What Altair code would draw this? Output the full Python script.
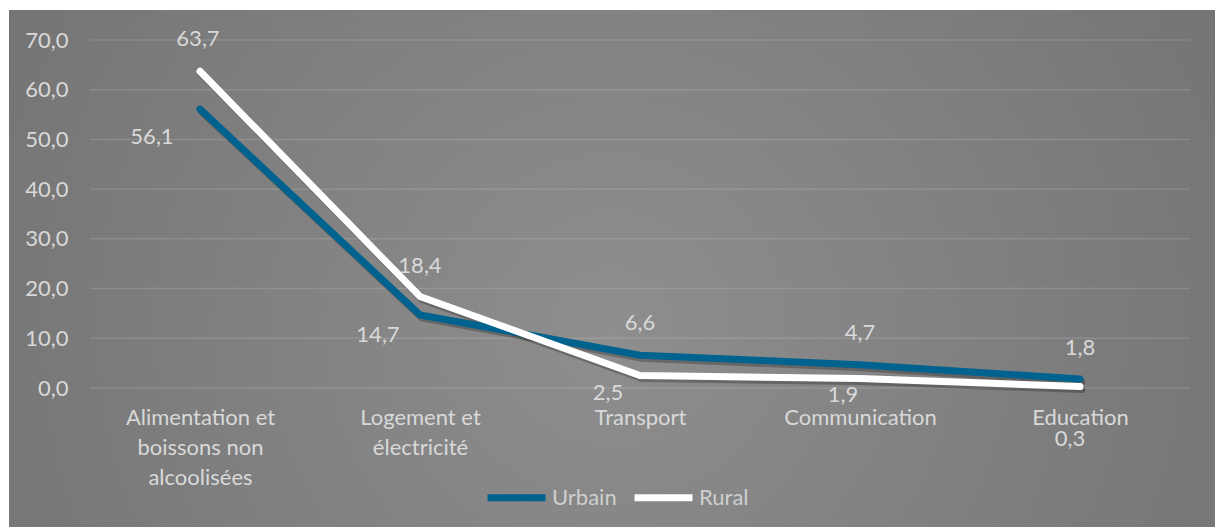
import altair as alt
import pandas as pd

# Budget shares (%) by spending item, urban vs rural households
categories = [
    "Alimentation et boissons non alcoolisées",
    "Logement et électricité",
    "Transport",
    "Communication",
    "Education",
]
urbain = [56.1, 14.7, 6.6, 4.7, 1.8]
rural = [63.7, 18.4, 2.5, 1.9, 0.3]
y_ticks = [0, 10, 20, 30, 40, 50, 60, 70]

# Wrapped axis labels
wrapped = {
    "Alimentation et boissons non alcoolisées": ["Alimentation et", "boissons non", "alcoolisées"],
    "Logement et électricité": ["Logement et", "électricité"],
}

# Pixel offsets of each value label from its point
urbain_label_dx = [-48, -42, 0, 0, 0]
urbain_label_dy = [28, 20, -32, -32, -31]
rural_label_dx = [-2, 0, -32, -17, -10]
rural_label_dy = [-32, -31, 17, 16, 52]

rows = []
for i, c in enumerate(categories):
    rows.append({"cat": c, "serie": "Urbain", "val": urbain[i], "dx": urbain_label_dx[i], "dy": urbain_label_dy[i]})
    rows.append({"cat": c, "serie": "Rural", "val": rural[i], "dx": rural_label_dx[i], "dy": rural_label_dy[i]})
df = pd.DataFrame(rows)

FONT = "Lato"
FS = 22
TXT = "#d9d9d9"

label_expr = "datum.value"
for k, lines in wrapped.items():
    arr = "[" + ",".join("'" + s + "'" for s in lines) + "]"
    label_expr = f"datum.value == '{k}' ? {arr} : ({label_expr})"

x_enc = alt.X(
    "cat:N",
    sort=categories,
    scale=alt.Scale(type="point", padding=0.5),
    axis=alt.Axis(
        title=None, domain=False, ticks=False, grid=False, zindex=1,
        labelAngle=0, labelFont=FONT, labelFontSize=FS, labelColor=TXT,
        labelPadding=19, labelLineHeight=30, labelExpr=label_expr,
        labelBaseline="top",
    ),
)
y_scale = alt.Scale(domain=[0, 70], nice=False)
y_enc = alt.Y(
    "val:Q",
    scale=y_scale,
    axis=alt.Axis(
        title=None, domain=False, ticks=False, grid=False, zindex=1,
        values=y_ticks,
        labelExpr="replace(format(datum.value, '.1f'), '.', ',')",
        labelFont=FONT, labelFontSize=FS, labelColor=TXT, labelPadding=22,
    ),
)

base = alt.Chart(df)

# Background panel with a soft radial grey gradient
panel = alt.Chart(pd.DataFrame({"k": [0]})).mark_rect(
    fill={
        "gradient": "radial",
        "x1": 0.5, "y1": 0.55, "r1": 0.0,
        "x2": 0.5, "y2": 0.55, "r2": 0.75,
        "stops": [
            {"offset": 0, "color": "#8e8e8e"},
            {"offset": 1, "color": "#6c6c6c"},
        ],
    }
).encode(
    x=alt.value(-81), x2=alt.value(1125), y=alt.value(-30), y2=alt.value(487)
)

# Horizontal gridlines (same y encoding, so the axis is shared)
grid = alt.Chart(pd.DataFrame({"val": y_ticks})).mark_rule(
    color="#ffffff", opacity=0.13, strokeWidth=1.5
).encode(
    y=y_enc,
    x=alt.value(0), x2=alt.value(1100),
)

series_color = alt.Color(
    "serie:N",
    sort=["Urbain", "Rural"],
    scale=alt.Scale(domain=["Urbain", "Rural"], range=["#00628f", "#ffffff"]),
    legend=alt.Legend(
        title=None, orient="none", direction="horizontal",
        legendX=394, legendY=425, padding=0,
        symbolType="stroke", symbolSize=3364, symbolStrokeWidth=7,
        labelFont=FONT, labelFontSize=FS, labelColor="#cfcfcf",
        labelOffset=3, columnPadding=3, zindex=1,
    ),
)

shadow = base.mark_line(
    color="#000000", opacity=0.25, strokeWidth=7, strokeCap="round",
    xOffset=2, yOffset=3,
).encode(x=x_enc, y=y_enc, detail="serie:N")

lines = base.mark_line(strokeWidth=7, strokeCap="round").encode(
    x=x_enc, y=y_enc, color=series_color,
    order=alt.Order("serie:N", sort="descending"),
)

label_layers = []
for _, r in df.iterrows():
    label_layers.append(
        alt.Chart(df)
        .transform_filter(
            (alt.datum.cat == r["cat"]) & (alt.datum.serie == r["serie"])
        )
        .transform_calculate(lbl="replace(format(datum.val, '.1f'), '.', ',')")
        .mark_text(
            font=FONT, fontSize=FS, color=TXT, dx=int(r["dx"]), dy=int(r["dy"]),
            align="center", baseline="middle",
        )
        .encode(x=x_enc, y=y_enc, text=alt.Text("lbl:N"))
    )

chart = (
    alt.layer(panel, grid, shadow, lines, *label_layers)
    .properties(
        width=1100, height=348,
        autosize=alt.AutoSizeParams(type="none"),
        padding={"left": 90, "top": 40, "right": 25, "bottom": 139},
        background="#ffffff",
    )
    .configure_view(stroke=None)
)

chart.save("out.html", embed_options={"renderer": "svg", "actions": False})
